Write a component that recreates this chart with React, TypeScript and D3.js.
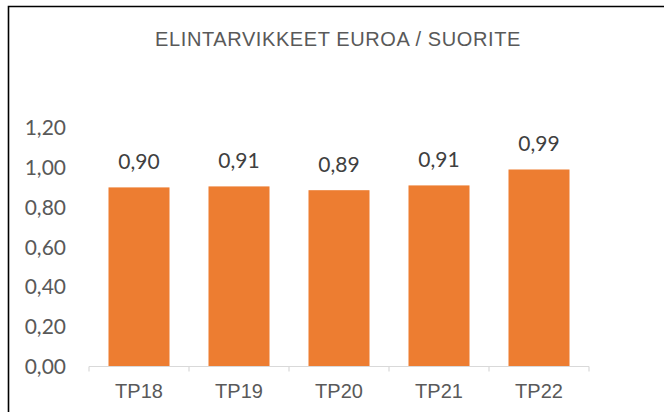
import React, { useEffect } from "react";
import * as d3 from "d3";

const title = "ELINTARVIKKEET EUROA / SUORITE";
const categories = ["TP18", "TP19", "TP20", "TP21", "TP22"];
const values = [0.9, 0.905, 0.886, 0.91, 0.99];
const valueLabels = ["0,90", "0,91", "0,89", "0,91", "0,99"];
const yTicks = [0, 0.2, 0.4, 0.6, 0.8, 1.0, 1.2];

const W = 664;
const H = 412;
const numFont = "Lato, 'Open Sans', sans-serif";
const txtFont = "'Liberation Sans', Arial, sans-serif";

export default function App() {
  useEffect(() => {
    document.body.style.margin = "0";
    document.body.style.overflow = "hidden";
    document.documentElement.style.overflow = "hidden";
  }, []);

  const x = d3
    .scaleBand<string>()
    .domain(categories)
    .range([89, 589])
    .paddingInner(0.39)
    .paddingOuter(0.195);
  const y = d3.scaleLinear().domain([0, 1.2]).range([366.5, 127.7]);
  const fmt = (v: number) => d3.format(".2f")(v).replace(".", ",");
  const step = x.step();
  const x0 = 89;

  return (
    <svg
      width={W}
      height={H}
      style={{ position: "fixed", left: 0, top: 0, background: "#fff", display: "block" }}
    >
      <rect x={0} y={0} width={W} height={H} fill="#fff" />
      {/* frame */}
      <path d={`M8.5,${H} V6.5 H${W}`} fill="none" stroke="#000" strokeWidth={1.6} />

      <text
        x={338}
        y={46}
        textAnchor="middle"
        fontFamily={txtFont}
        fontSize={20}
        letterSpacing={0.6}
        fill="#595959"
      >
        {title}
      </text>

      {yTicks.map((t) => (
        <text
          key={t}
          x={66}
          y={y(t) + 7.5}
          textAnchor="end"
          fontFamily={numFont}
          fontSize={21}
          fill="#595959"
        >
          {fmt(t)}
        </text>
      ))}

      {categories.map((c, i) => (
        <g key={c}>
          <rect
            x={x(c)}
            y={y(values[i])}
            width={x.bandwidth()}
            height={y(0) - y(values[i])}
            fill="#ED7D31"
          />
          <text
            x={(x(c) as number) + x.bandwidth() / 2}
            y={y(values[i]) - 18}
            textAnchor="middle"
            fontFamily={numFont}
            fontSize={21}
            fill="#404040"
          >
            {valueLabels[i]}
          </text>
          <text
            x={(x(c) as number) + x.bandwidth() / 2}
            y={398}
            textAnchor="middle"
            fontFamily={txtFont}
            fontSize={20}
            fill="#595959"
          >
            {c}
          </text>
        </g>
      ))}

      <line x1={x0} y1={y(0)} x2={x0 + step * categories.length} y2={y(0)} stroke="#d9d9d9" strokeWidth={1.2} />
      {d3.range(categories.length + 1).map((i) => (
        <line
          key={i}
          x1={x0 + i * step}
          x2={x0 + i * step}
          y1={y(0)}
          y2={y(0) + 5}
          stroke="#d9d9d9"
          strokeWidth={1.2}
        />
      ))}
    </svg>
  );
}
